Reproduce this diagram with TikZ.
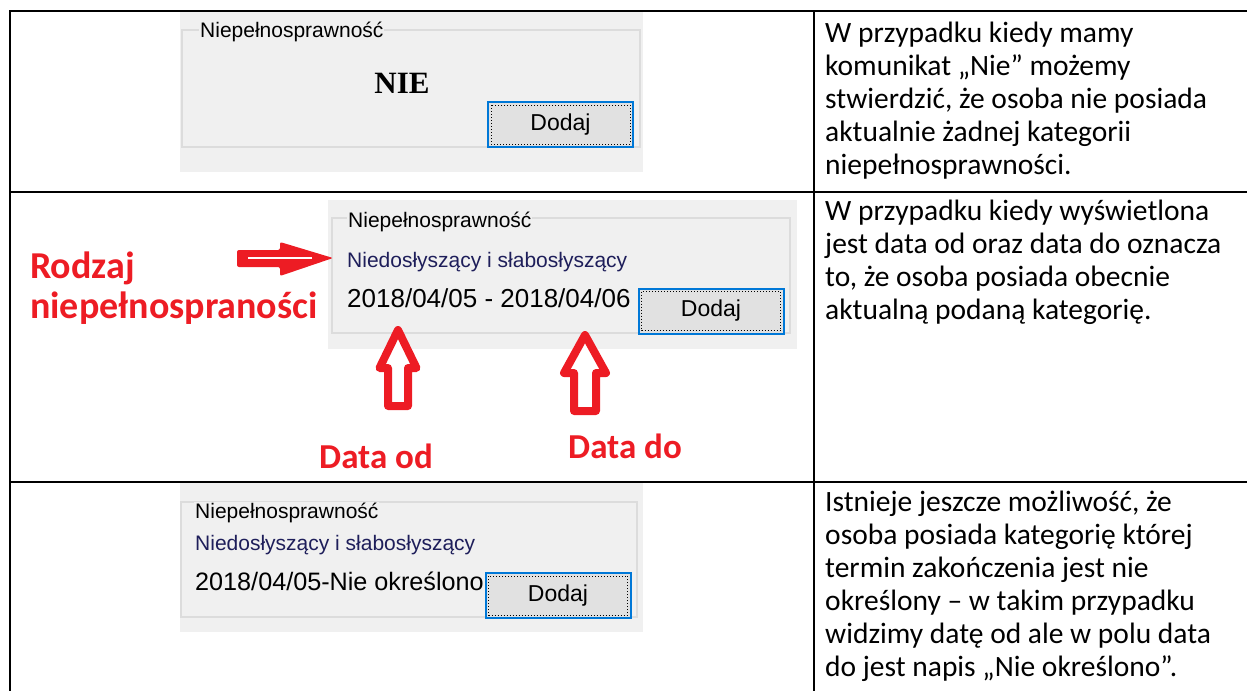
\documentclass[tikz,border=0pt]{standalone}
\usepackage{fontspec}
\setmainfont{Carlito}
\newfontfamily\guifont{Liberation Sans}
\newfontfamily\niefont{Liberation Serif}
\usetikzlibrary{calc}

\definecolor{panelgray}{HTML}{F0F0F0}
\definecolor{framegray}{HTML}{DCDCDC}
\definecolor{btngray}{HTML}{E1E1E1}
\definecolor{focusblue}{HTML}{0078D7}
\definecolor{markred}{HTML}{ED1C24}
\definecolor{itemnavy}{HTML}{1E1E5A}

\begin{document}
\begin{tikzpicture}[x=1pt,y=-1pt,
  panel/.style={fill=panelgray},
  frame/.style={draw=framegray,line width=1.2pt},
  grp/.style={inner sep=1pt,anchor=base west,fill=panelgray,font=\guifont\fontsize{21}{24}\selectfont},
  item/.style={inner sep=0pt,anchor=base west,text=itemnavy,font=\guifont\fontsize{21}{24}\selectfont},
  dates/.style={inner sep=0pt,anchor=base west,font=\guifont\fontsize{26}{30}\selectfont},
  btn/.style={draw=focusblue,line width=2pt,fill=btngray,minimum width=145pt,minimum height=45pt,inner sep=0pt,font=\guifont\fontsize{23}{26}\selectfont},
  note/.style={inner sep=0pt,anchor=base west,text=markred,font=\bfseries\fontsize{38}{40}\selectfont},
  cell/.style={inner sep=0pt,anchor=base west,text width=440pt,align=flush left,font=\fontsize{29.5}{33}\selectfont},
  grid/.style={line width=2pt},
  hollow/.style={draw=markred,line width=8pt,fill=white,line join=round}
]
\useasboundingbox (0,0) rectangle (1247,691);

% table
\draw[grid] (1247,11) -- (10,11) -- (10,691);
\draw[grid] (814,11) -- (814,691);
\draw[grid] (10,192) -- (1247,192);
\draw[grid] (10,482) -- (1247,482);

% first screenshot
\fill[panel] (180,12) rectangle (643,172);
\draw[frame] (182,30) rectangle (640,147);
\node[grp] (g1) at (199,37) {Niepełnosprawność};
\node[inner sep=0pt,anchor=base,font=\niefont\bfseries\fontsize{31}{34}\selectfont] (nie) at (402,93) {NIE};
\node[btn] (btn1) at (560.5,124.5) {Dodaj};

% second screenshot
\fill[panel] (328,200) rectangle (797,349);
\draw[frame] (332,218) rectangle (790,333);
\node[grp] (g2) at (347,227) {Niepełnosprawność};
\node[item] (it2) at (347,267) {Niedosłyszący i słabosłyszący};
\node[dates] (d2) at (347,307) {2018/04/05 - 2018/04/06};
\node[btn] (btn2) at (711,311) {Dodaj};

% third screenshot
\fill[panel] (180,483) rectangle (643,632);
\draw[frame] (181,502) rectangle (637,617);
\node[grp] (g3) at (194,518) {Niepełnosprawność};
\node[item] (it3) at (195,550) {Niedosłyszący i słabosłyszący};
\node[dates,font=\guifont\fontsize{25.2}{30}\selectfont] (d3) at (195,590) {2018/04/05-Nie określono};
\node[btn] (btn3) at (558,595.5) {Dodaj};

\foreach \b in {btn1,btn2,btn3}
  \draw[dotted,line width=1pt] ($(\b.north west)+(4,4)$) rectangle ($(\b.south east)+(-4,-4)$);

% red marks
\node[note,text width=320pt,align=flush left] (kind) at (30,278) {Rodzaj\\niepełnospraności};
\node[note,font=\bfseries\fontsize{35}{38}\selectfont] (od) at (319,468) {Data od};
\node[note,font=\bfseries\fontsize{35}{38}\selectfont] (do) at (568,458) {Data do};

\coordinate (kindtip) at (333,258);
\coordinate (kindend) at (312,258);
\fill[markred,rounded corners=2pt] (kindtip) -- ++(-53,-16) -- ++(0,8) -- ++(-43,0) -- ++(0,17) -- ++(43,0) -- ++(0,9) -- cycle;
\draw[white,line width=1.5pt] (kindend) -- ++(-64,0);

\coordinate (odtip) at (398,330);
\draw[hollow] (odtip) -- ++(18.5,38) -- ++(-8.5,0) -- ++(0,38) -- ++(-20,0) -- ++(0,-38) -- ++(-8.5,0) -- cycle;
\coordinate (dotip) at (585,335);
\draw[hollow] (dotip) -- ++(21,38) -- ++(-10,0) -- ++(0,38) -- ++(-22,0) -- ++(0,-38) -- ++(-10,0) -- cycle;

% descriptions
\node[cell] (t1) at (825,42) {W przypadku kiedy mamy\\komunikat „Nie” możemy\\stwierdzić, że osoba nie posiada\\aktualnie żadnej kategorii\\niepełnosprawności.};
\node[cell] (t2) at (825,220) {W przypadku kiedy wyświetlona\\jest data od oraz data do oznacza\\to, że osoba posiada obecnie\\aktualną podaną kategorię.};
\node[cell] (t3) at (825,511) {Istnieje jeszcze możliwość, że\\osoba posiada kategorię której\\termin zakończenia jest nie\\określony – w takim przypadku\\widzimy datę od ale w polu data\\do jest napis „Nie określono”.};
\end{tikzpicture}
\end{document}
